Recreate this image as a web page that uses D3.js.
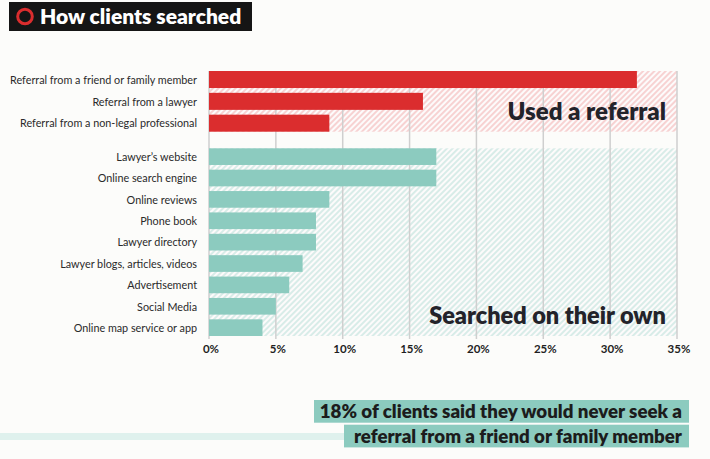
<!DOCTYPE html>
<html><head><meta charset="utf-8">
<script src="https://cdn.jsdelivr.net/npm/d3@7"></script>
<style>
html,body{margin:0;padding:0;background:#fcfcfa;}
svg{display:block;font-family:Lato,"Open Sans",sans-serif;}
</style></head>
<body>
<script>
const referralCats = ["Referral from a friend or family member","Referral from a lawyer","Referral from a non-legal professional"];
const referralVals = [32,16,9];
const ownCats = ["Lawyer’s website","Online search engine","Online reviews","Phone book","Lawyer directory","Lawyer blogs, articles, videos","Advertisement","Social Media","Online map service or app"];
const ownVals = [17,17,9,8,8,7,6,5,4];
const xTicks = [0,5,10,15,20,25,30,35];
const title = "How clients searched";
const groupLabels = ["Used a referral","Searched on their own"];
const callout = ["18% of clients said they would never seek a","referral from a friend or family member"];

const W=710,H=459;
const svg=d3.select("body").append("svg").attr("width",W).attr("height",H);
svg.append("rect").attr("width",W).attr("height",H).attr("fill","#fcfcfa");

const defs=svg.append("defs");
function hatch(id,color){
  const p=defs.append("pattern").attr("id",id).attr("patternUnits","userSpaceOnUse")
    .attr("width",4).attr("height",4).attr("patternTransform","rotate(45)");
  p.append("rect").attr("width",4).attr("height",4).attr("fill","#fdfbfb");
  p.append("line").attr("x1",1).attr("y1",0).attr("x2",1).attr("y2",4).attr("stroke",color).attr("stroke-width",1.3);
}
hatch("hRed","#f5bcbc");
hatch("hTeal","#c4e5de");

const x=d3.scaleLinear().domain([0,35]).range([209,677]);
const yR=d3.scaleBand().domain(referralCats).range([71,131.7]).paddingInner(0.22).paddingOuter(0);
const yT=d3.scaleBand().domain(ownCats).range([148.3,336]).paddingInner(0.22).paddingOuter(0);

// hatched group bands
svg.append("rect").attr("x",x(0)).attr("y",yR.range()[0]).attr("width",x(35)-x(0)).attr("height",yR.range()[1]-yR.range()[0]).attr("fill","url(#hRed)");
svg.append("rect").attr("x",x(0)).attr("y",yT.range()[0]).attr("width",x(35)-x(0)).attr("height",yT.range()[1]-yT.range()[0]).attr("fill","url(#hTeal)");

// grid
svg.append("g").selectAll("line").data(xTicks).join("line")
  .attr("x1",d=>x(d)).attr("x2",d=>x(d)).attr("y1",71).attr("y2",339)
  .attr("stroke","#cfcfcf").attr("stroke-width",1.5);

// bars
svg.append("g").selectAll("rect").data(referralVals).join("rect")
  .attr("x",x(0)).attr("y",(d,i)=>yR(referralCats[i])).attr("height",yR.bandwidth())
  .attr("width",d=>x(d)-x(0)).attr("fill","#db2d2e");
svg.append("g").selectAll("rect").data(ownVals).join("rect")
  .attr("x",x(0)).attr("y",(d,i)=>yT(ownCats[i])).attr("height",yT.bandwidth())
  .attr("width",d=>x(d)-x(0)).attr("fill","#8ccbbf");

// category labels
const lab=svg.append("g").attr("font-size",10.8).attr("fill","#2a2a2a").attr("text-anchor","end");
lab.selectAll("text.r").data(referralCats).join("text").attr("class","r")
  .attr("x",197).attr("y",d=>yR(d)+yR.bandwidth()/2+0.5).attr("dy","0.35em").text(d=>d);
lab.selectAll("text.t").data(ownCats).join("text").attr("class","t")
  .attr("x",197).attr("y",d=>yT(d)+yT.bandwidth()/2+0.5).attr("dy","0.35em").text(d=>d);

// x axis
const ax=svg.append("g").attr("transform","translate(0,353)");
ax.selectAll("text").data(xTicks).join("text")
  .attr("x",d=>x(d)+2).attr("text-anchor","middle").attr("font-size",11.5).attr("font-weight",700)
  .attr("fill","#1f1f1f").text(d=>d+"%");

// group labels
svg.append("text").attr("x",666).attr("y",120).attr("text-anchor","end").attr("font-size",24)
  .attr("font-weight",800).attr("fill","#23232a").text(groupLabels[0]);
svg.append("text").attr("x",666).attr("y",324).attr("text-anchor","end").attr("font-size",23.5)
  .attr("font-weight",800).attr("fill","#23232a").text(groupLabels[1]);

// title
svg.append("rect").attr("x",9).attr("y",2).attr("width",243).attr("height",29).attr("fill","#151515");
svg.append("circle").attr("cx",25).attr("cy",16.5).attr("r",7.3).attr("fill","none").attr("stroke","#db2d2e").attr("stroke-width",3);
svg.append("text").attr("x",40).attr("y",24).attr("font-size",21).attr("font-weight",800).attr("fill","#ffffff").text(title);

// callout
svg.append("rect").attr("x",0).attr("y",433).attr("width",344).attr("height",7).attr("fill","#dff1ed");
svg.append("rect").attr("x",314).attr("y",400).attr("width",375).attr("height",22.7).attr("fill","#8ccbbf");
svg.append("rect").attr("x",344).attr("y",424.7).attr("width",345).attr("height",22.7).attr("fill","#8ccbbf");
svg.append("text").attr("x",682).attr("y",418).attr("text-anchor","end").attr("font-size",18.7).attr("font-weight",800).attr("fill","#1c1c1c").text(callout[0]);
svg.append("text").attr("x",682).attr("y",442.5).attr("text-anchor","end").attr("font-size",18.7).attr("font-weight",800).attr("fill","#1c1c1c").text(callout[1]);
</script>
</body></html>
